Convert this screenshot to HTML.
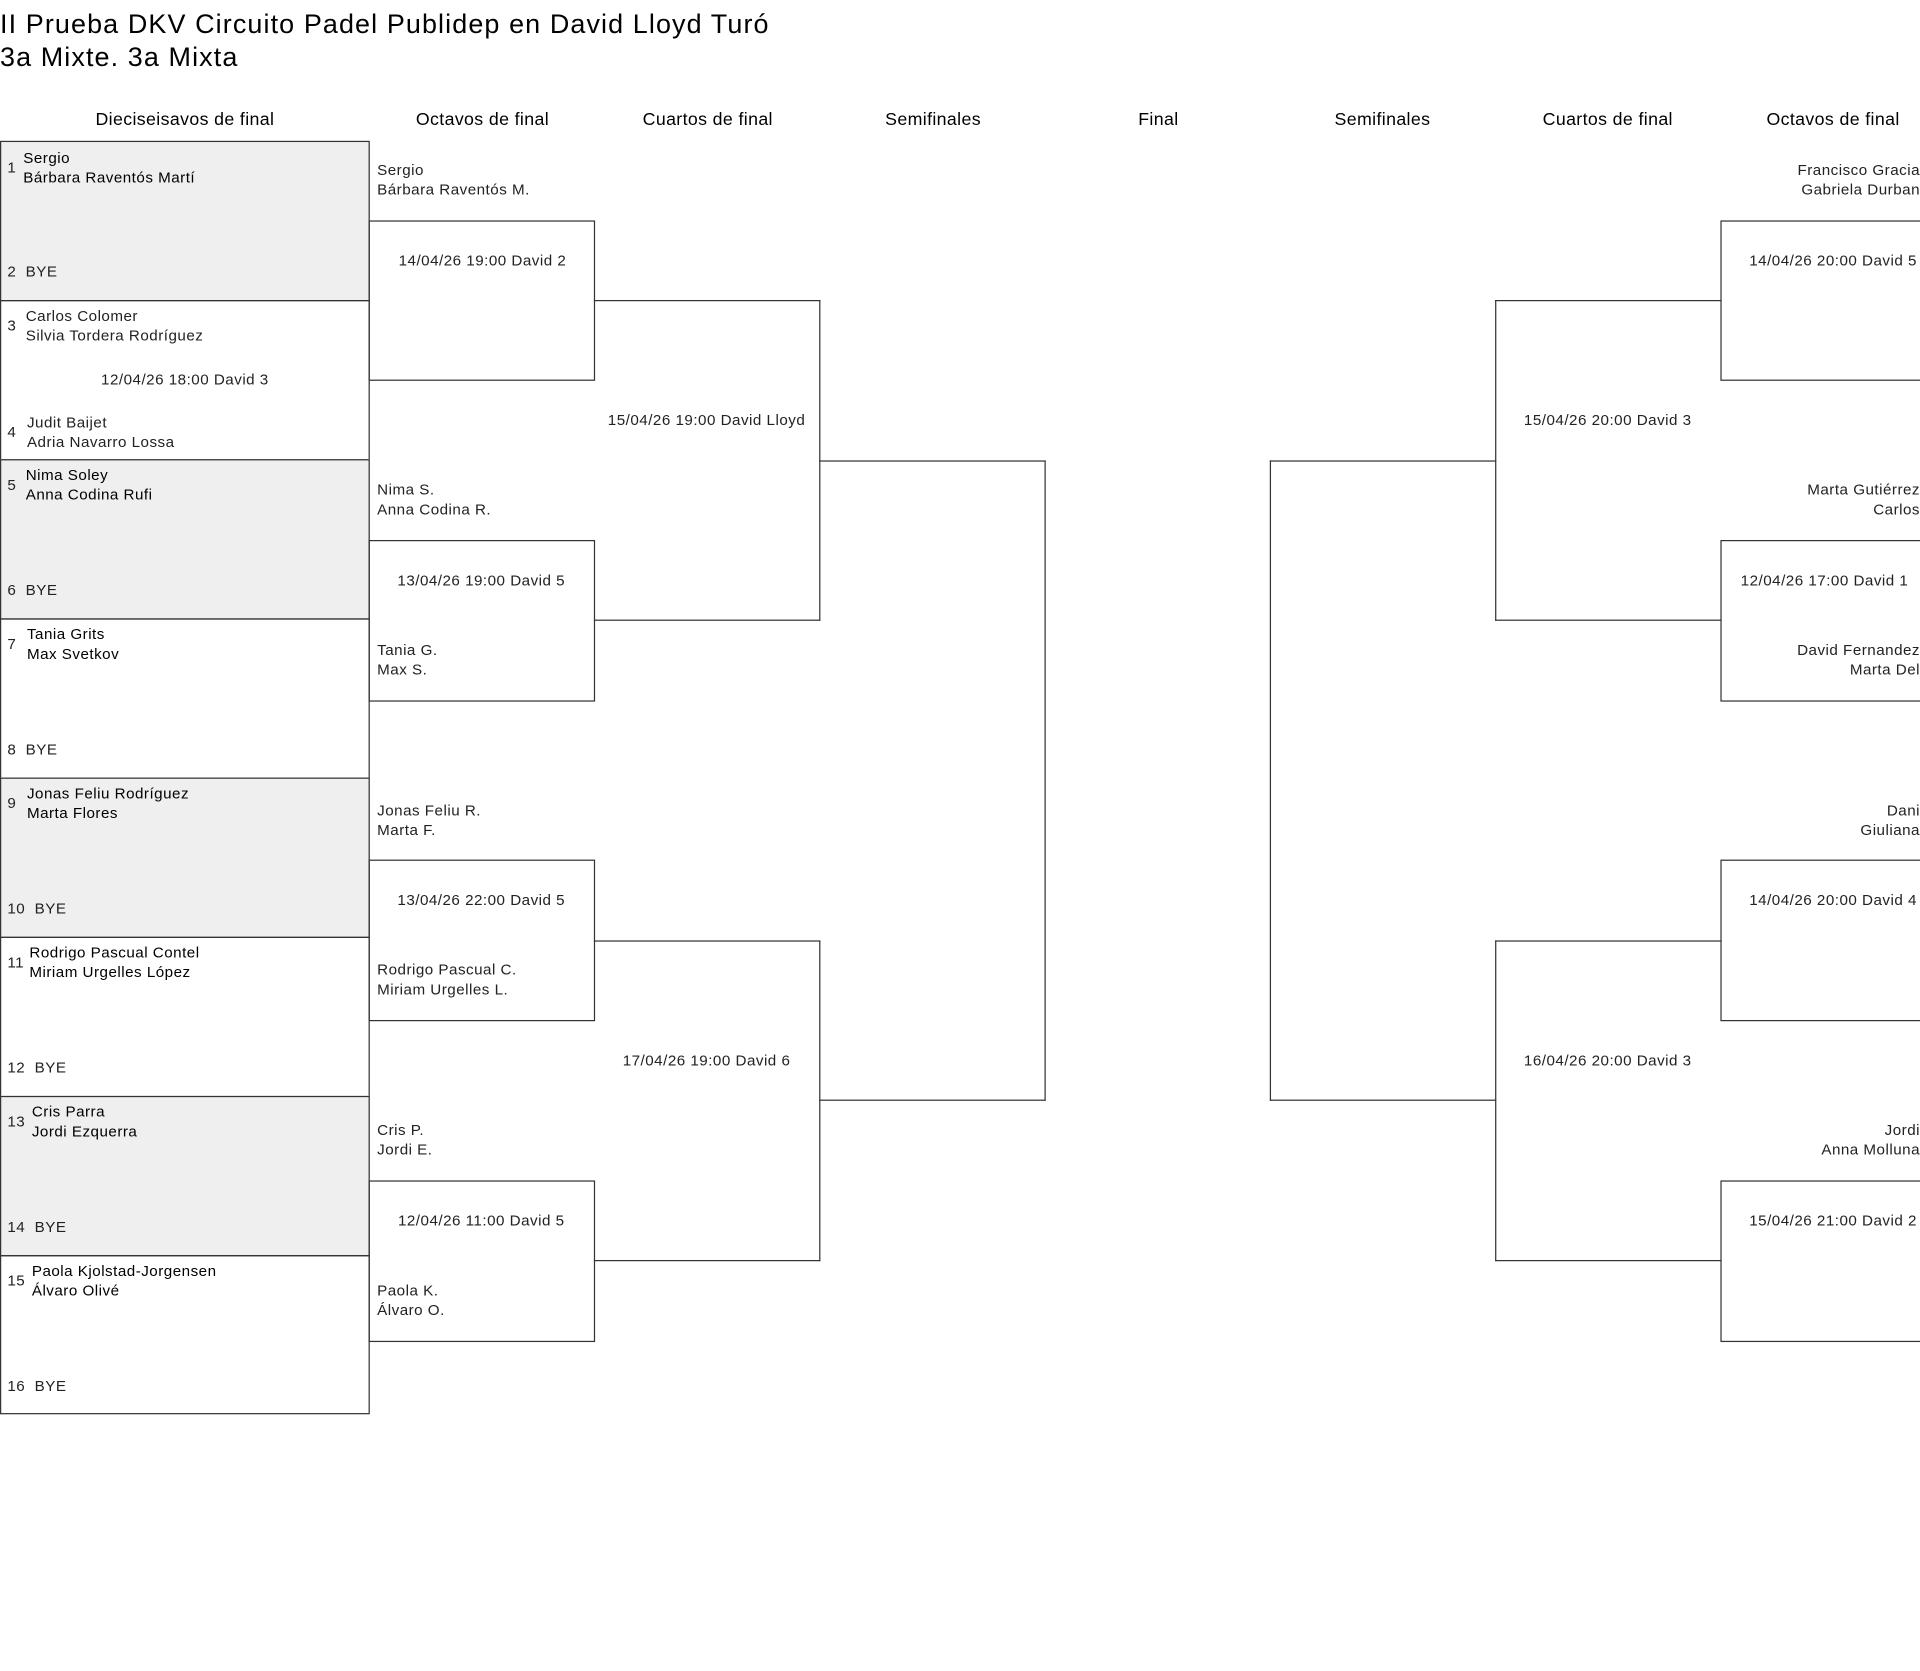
<!DOCTYPE html>
<html><head><meta charset="utf-8">
<style>
html,body{margin:0;padding:0;background:#fff;}
body{width:1920px;height:1671px;overflow:hidden;position:relative;}
#c{position:absolute;left:0;top:0;width:1568px;height:1365px;transform:scale(1.22449);transform-origin:0 0;font-family:"Liberation Sans",sans-serif;color:#222;overflow:hidden;}
.b{position:absolute;border:1px solid #333;box-sizing:border-box;}
.nl{border-left:none;}
.nr{border-right:none;}
.g{background:#efefef;}
.t{position:absolute;font-size:12.4px;line-height:16px;white-space:nowrap;letter-spacing:0.4px;}
.h{position:absolute;font-size:14.5px;line-height:18px;white-space:nowrap;transform:translateX(-50%);color:#000;letter-spacing:0.3px;}
.cc{transform:translateX(-50%);}
.r{text-align:right;right:0;}
.m{color:#000;}
</style></head><body><div id="c">
<div class="t" style="left:0;top:7px;font-size:22px;line-height:26px;color:#000;letter-spacing:0.9px">II Prueba DKV Circuito Padel Publidep en David Lloyd Turó</div>
<div class="t" style="left:0;top:34px;font-size:22px;line-height:26px;color:#000;letter-spacing:0.9px">3a Mixte. 3a Mixta</div>

<div class="h" style="left:151px;top:89px">Dieciseisavos de final</div>
<div class="h" style="left:394px;top:89px">Octavos de final</div>
<div class="h" style="left:578px;top:89px">Cuartos de final</div>
<div class="h" style="left:762px;top:89px">Semifinales</div>
<div class="h" style="left:946px;top:89px">Final</div>
<div class="h" style="left:1129px;top:89px">Semifinales</div>
<div class="h" style="left:1313px;top:89px">Cuartos de final</div>
<div class="h" style="left:1497px;top:89px">Octavos de final</div>

<!-- col1 boxes -->
<div class="b g" style="left:0;top:115px;width:302px;height:131px"></div>
<div class="b" style="left:0;top:245px;width:302px;height:131px"></div>
<div class="b g" style="left:0;top:375px;width:302px;height:131px"></div>
<div class="b" style="left:0;top:505px;width:302px;height:131px"></div>
<div class="b g" style="left:0;top:635px;width:302px;height:131px"></div>
<div class="b" style="left:0;top:765px;width:302px;height:131px"></div>
<div class="b g" style="left:0;top:895px;width:302px;height:131px"></div>
<div class="b" style="left:0;top:1025px;width:302px;height:130px"></div>

<!-- octavos left -->
<div class="b" style="left:301px;top:180px;width:185px;height:131px"></div>
<div class="b" style="left:301px;top:441px;width:185px;height:132px"></div>
<div class="b" style="left:301px;top:702px;width:185px;height:132px"></div>
<div class="b" style="left:301px;top:964px;width:185px;height:132px"></div>
<!-- cuartos left -->
<div class="b nl" style="left:485px;top:245px;width:185px;height:262px"></div>
<div class="b nl" style="left:485px;top:768px;width:185px;height:262px"></div>
<!-- semis -->
<div class="b nl" style="left:669px;top:376px;width:185px;height:523px"></div>
<div class="b nr" style="left:1037px;top:376px;width:185px;height:523px"></div>
<!-- cuartos right -->
<div class="b nr" style="left:1221px;top:245px;width:185px;height:262px"></div>
<div class="b nr" style="left:1221px;top:768px;width:185px;height:262px"></div>
<!-- octavos right -->
<div class="b" style="left:1405px;top:180px;width:200px;height:131px"></div>
<div class="b" style="left:1405px;top:441px;width:200px;height:132px"></div>
<div class="b" style="left:1405px;top:702px;width:200px;height:132px"></div>
<div class="b" style="left:1405px;top:964px;width:200px;height:132px"></div>

<!-- col1 text -->
<div class="t" style="left:6px;top:129px">1</div>
<div class="t m" style="left:19px;top:121px">Sergio<br>Bárbara Raventós Martí</div>
<div class="t" style="left:6px;top:214px">2&nbsp;&nbsp;BYE</div>

<div class="t" style="left:6px;top:258px">3</div>
<div class="t" style="left:21px;top:250px">Carlos Colomer<br>Silvia Tordera Rodríguez</div>
<div class="t cc" style="left:151px;top:302px">12/04/26 18:00 David 3</div>
<div class="t" style="left:6px;top:345px">4</div>
<div class="t" style="left:22px;top:337px">Judit Baijet<br>Adria Navarro Lossa</div>

<div class="t" style="left:6px;top:388px">5</div>
<div class="t m" style="left:21px;top:380px">Nima Soley<br>Anna Codina Rufi</div>
<div class="t" style="left:6px;top:474px">6&nbsp;&nbsp;BYE</div>

<div class="t" style="left:6px;top:518px">7</div>
<div class="t m" style="left:22px;top:510px">Tania Grits<br>Max Svetkov</div>
<div class="t" style="left:6px;top:604px">8&nbsp;&nbsp;BYE</div>

<div class="t" style="left:6px;top:648px">9</div>
<div class="t m" style="left:22px;top:640px">Jonas Feliu Rodríguez<br>Marta Flores</div>
<div class="t" style="left:6px;top:734px">10&nbsp;&nbsp;BYE</div>

<div class="t" style="left:6px;top:778px">11</div>
<div class="t m" style="left:24px;top:770px">Rodrigo Pascual Contel<br>Miriam Urgelles López</div>
<div class="t" style="left:6px;top:864px">12&nbsp;&nbsp;BYE</div>

<div class="t" style="left:6px;top:908px">13</div>
<div class="t m" style="left:26px;top:900px">Cris Parra<br>Jordi Ezquerra</div>
<div class="t" style="left:6px;top:994px">14&nbsp;&nbsp;BYE</div>

<div class="t" style="left:6px;top:1038px">15</div>
<div class="t m" style="left:26px;top:1030px">Paola Kjolstad-Jorgensen<br>Álvaro Olivé</div>
<div class="t" style="left:6px;top:1124px">16&nbsp;&nbsp;BYE</div>

<!-- octavos left text -->
<div class="t" style="left:308px;top:131px">Sergio<br>Bárbara Raventós M.</div>
<div class="t cc" style="left:394px;top:205px">14/04/26 19:00 David 2</div>
<div class="t" style="left:308px;top:392px">Nima S.<br>Anna Codina R.</div>
<div class="t cc" style="left:393px;top:466px">13/04/26 19:00 David 5</div>
<div class="t" style="left:308px;top:523px">Tania G.<br>Max S.</div>
<div class="t" style="left:308px;top:654px">Jonas Feliu R.<br>Marta F.</div>
<div class="t cc" style="left:393px;top:727px">13/04/26 22:00 David 5</div>
<div class="t" style="left:308px;top:784px">Rodrigo Pascual C.<br>Miriam Urgelles L.</div>
<div class="t" style="left:308px;top:915px">Cris P.<br>Jordi E.</div>
<div class="t cc" style="left:393px;top:989px">12/04/26 11:00 David 5</div>
<div class="t" style="left:308px;top:1046px">Paola K.<br>Álvaro O.</div>

<div class="t cc" style="left:577px;top:335px">15/04/26 19:00 David Lloyd</div>
<div class="t cc" style="left:577px;top:858px">17/04/26 19:00 David 6</div>
<div class="t cc" style="left:1313px;top:335px">15/04/26 20:00 David 3</div>
<div class="t cc" style="left:1313px;top:858px">16/04/26 20:00 David 3</div>

<!-- right octavos text -->
<div class="t r" style="top:131px;right:0">Francisco Gracia<br>Gabriela Durban</div>
<div class="t cc" style="left:1497px;top:205px">14/04/26 20:00 David 5</div>
<div class="t r" style="top:392px;right:0">Marta Gutiérrez<br>Carlos</div>
<div class="t cc" style="left:1490px;top:466px">12/04/26 17:00 David 1</div>
<div class="t r" style="top:523px;right:0">David Fernandez<br>Marta Del</div>
<div class="t r" style="top:654px;right:0">Dani<br>Giuliana</div>
<div class="t cc" style="left:1497px;top:727px">14/04/26 20:00 David 4</div>
<div class="t r" style="top:915px;right:0">Jordi<br>Anna Molluna</div>
<div class="t cc" style="left:1497px;top:989px">15/04/26 21:00 David 2</div>
</div></body></html>
